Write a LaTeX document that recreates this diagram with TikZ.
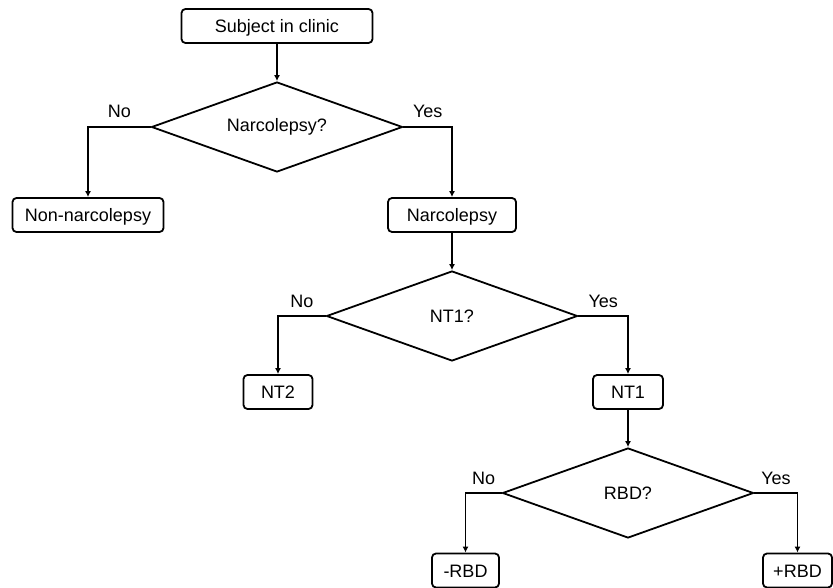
\documentclass[tikz,border=0pt]{standalone}
\usepackage{fontspec}
\setmainfont{Liberation Sans}
\usetikzlibrary{arrows.meta,shapes.geometric}

\begin{document}
\begin{tikzpicture}[x=1pt,y=-1pt,>={Latex[length=6pt,width=6pt]},line width=1.8pt,
                    node distance=101pt,font=\fontsize{18}{21}\selectfont]
  \tikzstyle{box}=[draw,rounded corners=4pt,minimum height=34pt,inner sep=0pt,text height=13pt,text depth=0pt]
  \tikzstyle{test}=[draw,diamond,aspect=2.79,minimum width=251pt,minimum height=90pt,inner sep=0pt]
  \tikzstyle{elbow}=[->,to path={-| (\tikztotarget) \tikztonodes}]
  \tikzstyle{answer}=[pos=0.25,anchor=base,yshift=9pt,inner sep=0pt]

  \useasboundingbox (0,0) rectangle (833,588);

  \node[box,minimum width=191pt] (subj)    at (277,26)      {Subject in clinic};
  \node[test]                    (dnarc)   [below of=subj]  {Narcolepsy?};
  \node[box,minimum width=151pt] (nonnarc) at (88,215)      {Non-narcolepsy};
  \node[box,minimum width=128pt] (narc)    at (452,215)     {Narcolepsy};
  \node[test]                    (dnt1)    [below of=narc]  {NT1?};
  \node[box,minimum width=69pt]  (nt2)     at (278,392)     {NT2};
  \node[box,minimum width=70pt]  (nt1)     at (628,392)     {NT1};
  \node[test]                    (drbd)    [below of=nt1]   {RBD?};
  \node[box,minimum width=67pt]  (mrbd)    at (465.5,570.5) {-RBD};
  \node[box,minimum width=69pt]  (prbd)    at (797.5,570.5) {+RBD};

  \path (subj)  edge [->]                        (dnarc)
        (dnarc) edge [elbow] node[answer] {No}   (nonnarc)
                edge [elbow] node[answer] {Yes}  (narc)
        (narc)  edge [->]                        (dnt1)
        (dnt1)  edge [elbow] node[answer] {No}   (nt2)
                edge [elbow] node[answer] {Yes}  (nt1)
        (nt1)   edge [->]                        (drbd)
        (drbd)  edge [elbow] node[answer] {No}   (mrbd)
                edge [elbow] node[answer] {Yes}  (prbd);
\end{tikzpicture}
\end{document}
